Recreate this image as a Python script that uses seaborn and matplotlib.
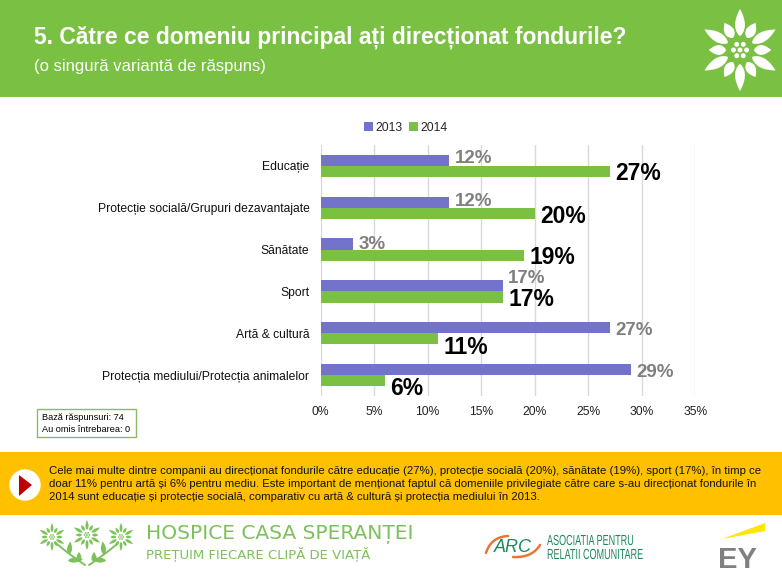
import numpy as np
import pandas as pd
import matplotlib
matplotlib.use('Agg')
import matplotlib.pyplot as plt
import matplotlib.patheffects as pe
from matplotlib.patches import Circle, Rectangle, Polygon
from matplotlib.transforms import Affine2D
import seaborn as sns

# Data
categories = ['Educație', 'Protecție socială/Grupuri dezavantajate', 'Sănătate',
              'Sport', 'Artă & cultură', 'Protecția mediului/Protecția animalelor']
values_2013 = [12, 12, 3, 17, 27, 29]
values_2014 = [27, 20, 19, 17, 11, 6]
xticks = [0, 5, 10, 15, 20, 25, 30, 35]

# how far each value label sits above its bar centre, in points
shift_2013 = [1, 0.5, 0, 5, -2, -2]
shift_2014 = [-1.5, -2, -1.5, -2, -6, -6]

GREEN = '#7AC143'
PURPLE = '#7473CC'
AMBER = '#FFC000'
LOGO = '#7DC15A'
ARC_GREEN = '#1C8A5B'
ARC_ORANGE = '#E8763A'

W, H = 782, 585
sns.set_theme(style='white')
plt.rcParams['font.family'] = ['Liberation Sans', 'DejaVu Sans']

df = pd.DataFrame({
    'cat': categories * 2,
    'an': ['2013'] * 6 + ['2014'] * 6,
    'val': values_2013 + values_2014,
})

fig = plt.figure(figsize=(W / 100, H / 100), dpi=100)

# full figure layer in pixel coords, for the banners and logos
bg = fig.add_axes([0, 0, 1, 1], zorder=0)
bg.set_xlim(0, W)
bg.set_ylim(H, 0)
bg.axis('off')


class Squeeze(pe.AbstractPathEffect):
    # no condensed font installed, so narrow the glyphs of the text
    def __init__(self, sx):
        super().__init__()
        self.sx = sx

    def draw_path(self, renderer, gc, tpath, affine, rgbFace=None):
        renderer.draw_path(gc, tpath, Affine2D().scale(self.sx, 1) + affine, rgbFace)


def leaf(cx, cy, a, r0, r1, w, color):
    # pointed petal from radius r0 to r1, a is the angle from straight up
    t = np.linspace(0, 1, 25)
    along = r0 + (r1 - r0) * t
    half = w / 2 * np.sin(np.pi * t ** 0.8) ** 0.9
    ux, uy = np.sin(a), -np.cos(a)
    px, py = np.cos(a), np.sin(a)
    left = np.c_[cx + along * ux + half * px, cy + along * uy + half * py]
    right = np.c_[cx + along * ux - half * px, cy + along * uy - half * py]
    bg.add_patch(Polygon(np.r_[left, right[::-1]], color=color, lw=0))


def flower(cx, cy, r, color, w=0.2):
    for i in range(12):
        a = 2 * np.pi * i / 12
        end = r if i % 2 == 0 else r * 0.76
        leaf(cx, cy, a, r * 0.34, end, r * w, color)
    for i in range(6):
        a = 2 * np.pi * i / 6 + np.pi / 6
        bg.add_patch(Circle((cx + r * 0.16 * np.sin(a), cy - r * 0.16 * np.cos(a)),
                            r * 0.06, color=color, lw=0))
    bg.add_patch(Circle((cx, cy), r * 0.06, color=color, lw=0))


def curve(p0, p1, p2, color, lw):
    t = np.linspace(0, 1, 30)[:, None]
    pts = (1 - t) ** 2 * np.array(p0) + 2 * t * (1 - t) * np.array(p1) + t ** 2 * np.array(p2)
    bg.plot(pts[:, 0], pts[:, 1], color=color, lw=lw, solid_capstyle='round')


# header
bg.add_patch(Rectangle((0, 0), W, 97, color=GREEN, lw=0))
bg.text(34, 37, '5. Către ce domeniu principal ați direcționat fondurile?', color='white',
        fontsize=16.5, fontweight='bold', va='center')
bg.text(34, 67, '(o singură variantă de răspuns)', color='white', fontsize=12, va='center')
flower(740, 50, 41, 'white', w=0.24)

# note box
bg.add_patch(Rectangle((36.5, 408.5), 99, 28, fc='white', ec='#8DB86B', lw=1))
bg.text(42, 418, 'Bază răspunsuri: 74', fontsize=6.6, color='black', va='center')
bg.text(42, 429, 'Au omis întrebarea: 0', fontsize=6.6, color='black', va='center')

# amber banner
bg.add_patch(Rectangle((0, 452), W, 63, color=AMBER, lw=0))
bg.add_patch(Circle((25, 485), 15.7, color='white', lw=0))
bg.add_patch(Polygon([(19, 475), (19, 496), (32, 485)], color='#C00000', lw=0))
summary = ['Cele mai multe dintre companii au direcționat fondurile către educație (27%), protecție socială (20%), sănătate (19%), sport (17%), în timp ce',
           'doar 11% pentru artă și 6% pentru mediu. Este important de menționat faptul că domeniile privilegiate către care s-au direcționat fondurile în',
           '2014 sunt educație și protecție socială, comparativ cu artă & cultură și protecția mediului în 2013.']
for y, line in zip([470.5, 484, 497], summary):
    bg.text(49, y, line, fontsize=8.2, color='#111111', va='center')

# bottom logos
for cx, cy, r in [(52, 537, 14), (87, 535, 15), (121, 537, 14)]:
    flower(cx, cy, r, LOGO, w=0.2)
curve((57, 544), (70, 555), (85, 565), LOGO, 1.4)
curve((117, 544), (104, 555), (89, 565), LOGO, 1.4)
for x, y, ang, ln in [(69, 548, 0.1, 13), (68, 560, 1.5, 15), (79, 557, 0.0, 10),
                      (104, 548, -0.1, 13), (106, 560, -1.5, 15), (94, 557, 0.0, 10)]:
    leaf(x, y + ln / 2 * np.cos(ang), ang, 0, ln, 5, LOGO)
bg.text(146, 535, 'HOSPICE CASA SPERANȚEI', fontsize=14.5, color=LOGO,
        va='center', family=['DejaVu Sans'])
bg.text(146, 555, 'PREȚUIM FIECARE CLIPĂ DE VIAȚĂ', fontsize=9.5, color=LOGO,
        va='center', family=['DejaVu Sans'])

curve((486, 553), (491, 537), (508, 536), ARC_ORANGE, 1.8)
curve((513, 557), (532, 558), (540, 545), ARC_ORANGE, 1.8)
bg.text(513, 548, 'ARC', fontsize=13, color=ARC_GREEN, style='italic', ha='center', va='center')
for y, line in zip([541, 555], ['ASOCIATIA PENTRU', 'RELATII COMUNITARE']):
    t = bg.text(547, y, line, fontsize=10.5, color=ARC_GREEN, va='center')
    t.set_path_effects([Squeeze(0.62)])

bg.add_patch(Polygon([(722, 539), (765, 523), (765, 531)], color='#FFE600', lw=0))
bg.text(718, 560, 'EY', fontsize=21, color='#808080', fontweight='bold', va='center')

# chart
ax = fig.add_axes([320.5 / W, 1 - 396 / H, 375 / W, 251 / H], zorder=1)
ax.patch.set_alpha(0)
sns.barplot(data=df, y='cat', x='val', hue='an', hue_order=['2013', '2014'],
            palette=[PURPLE, GREEN], width=0.53, gap=0, saturation=1, linewidth=0,
            ax=ax, legend=True)
ax.set_xlim(0, 35)
ax.set_xticks(xticks)
ax.set_xticklabels([f'{t}%' for t in xticks], fontsize=8.7, color='#222222')
ax.set_xlabel('')
ax.set_ylabel('')
ax.tick_params(axis='y', labelsize=8.7, labelcolor='#111111', length=0, pad=8)
ax.tick_params(axis='x', length=0, pad=7)
ax.xaxis.grid(True, color='#D9D9D9', lw=1)
ax.yaxis.grid(False)
ax.set_axisbelow(True)
sns.despine(ax=ax, left=True, bottom=True, top=True, right=True)

# value labels, 2013 grey and 2014 big black, they go under the bars like in the original
for bars, shifts, size, col in [(ax.containers[0], shift_2013, 13.5, '#808080'),
                                (ax.containers[1], shift_2014, 16.5, 'black')]:
    for p, s in zip(bars, shifts):
        ax.annotate(f'{p.get_width():g}%', (p.get_width(), p.get_y() + p.get_height() / 2),
                    xytext=(4, s), textcoords='offset points', fontsize=size, color=col,
                    fontweight='bold', va='center', ha='left', zorder=0.9)

ax.legend(loc='lower center', bbox_to_anchor=(0.227, 1.044), ncol=2, frameon=False, fontsize=8.7,
          handlelength=0.75, handleheight=0.8, handletextpad=0.2, columnspacing=0.5,
          borderaxespad=0, borderpad=0)

fig.savefig('out.png', dpi=100)
